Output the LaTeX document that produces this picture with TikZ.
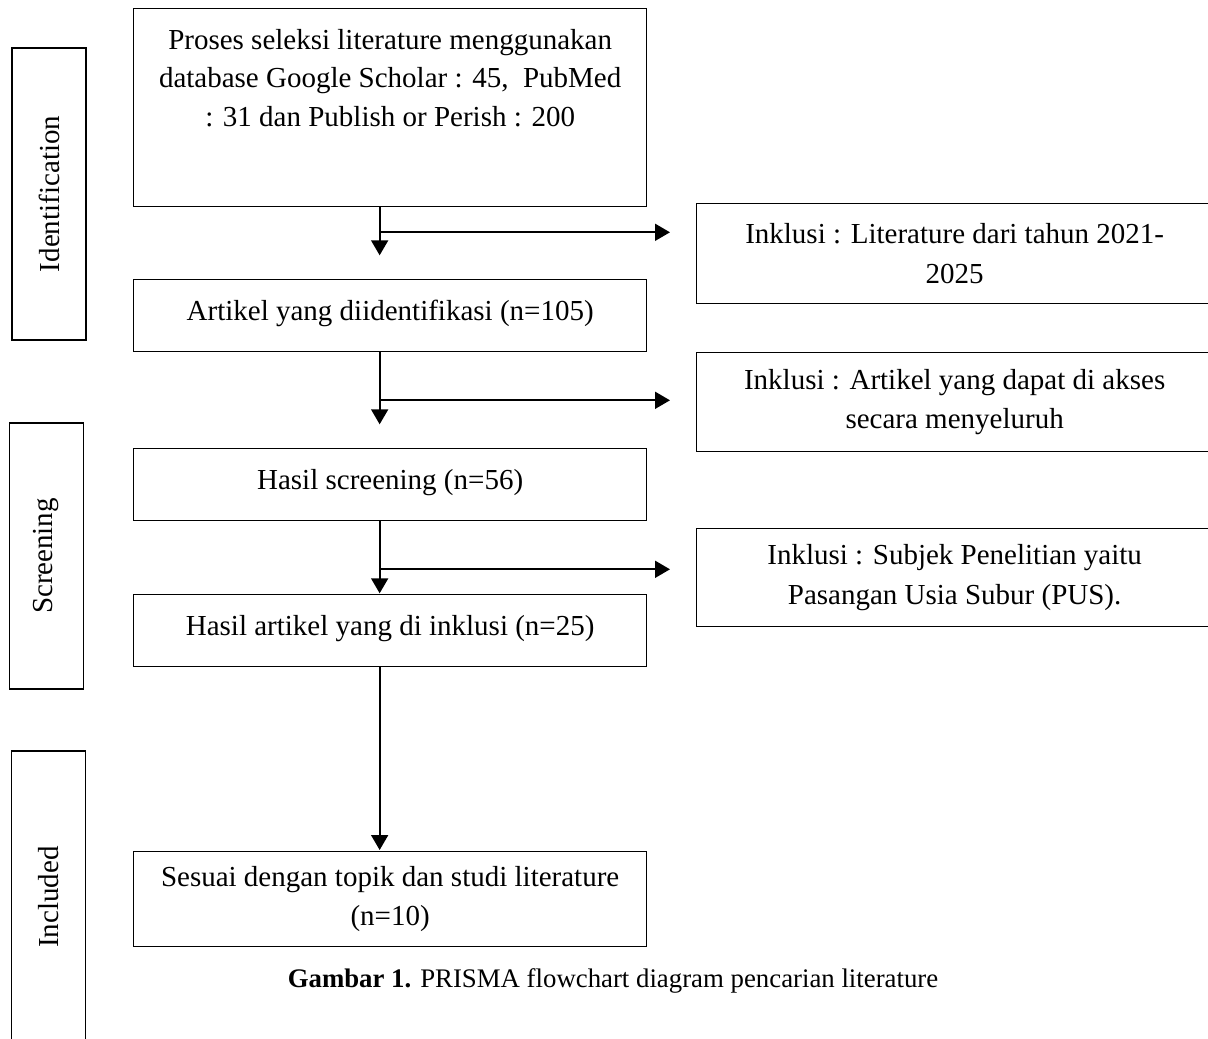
\documentclass[tikz,border=0pt]{standalone}
\usepackage{fontspec}
\setmainfont{Liberation Serif}
\usetikzlibrary{arrows.meta,calc}
\begin{document}
\begin{tikzpicture}[x=1pt,y=-1pt,
  font=\fontsize{29}{38.5}\selectfont,
  box/.style={draw=black, line width=1.3pt, inner sep=0pt, align=center},
  mainbox/.style={box, minimum width=513pt, anchor=north west},
  onebox/.style={mainbox, text height=41pt, text depth=31pt},
  sidebox/.style={box, minimum width=516pt, anchor=north west, font=\fontsize{29}{39.5}\selectfont},
  stagebox/.style={box, rotate=90, minimum height=74pt},
  conn/.style={line width=1.8pt, -{Triangle[width=17pt,length=15pt]}}
]
\useasboundingbox (0,0) rectangle (1208,1039);
% stage labels
\node[stagebox, minimum width=292pt] (sid) at (49,194) {Identification};
\node[stagebox, minimum width=266pt] (ssc) at (46.5,556) {Screening};
\node[stagebox, minimum width=292pt] (sin) at (48.5,897) {Included};
% main column
\node[mainbox, minimum height=198pt] (b1) at (133,8) {};
\node[align=center, anchor=north, inner sep=0pt] (b1t) at ($(b1.north)+(0,21)$)
  {Proses seleksi literature menggunakan\\ database Google Scholar : 45,\ \ PubMed\\ : 31 dan Publish or Perish : 200};
\node[onebox] (b2) at (133,279) {Artikel yang diidentifikasi (n=105)};
\node[onebox] (b3) at (133,448) {Hasil screening (n=56)};
\node[onebox] (b4) at (133,594) {Hasil artikel yang di inklusi (n=25)};
\node[mainbox, minimum height=95pt] (b5) at (133,851) {Sesuai dengan topik dan studi literature\\ (n=10)};
% side boxes
\node[sidebox, minimum height=100pt] (r1) at (696,203) {Inklusi : Literature dari tahun 2021-\\ 2025};
\node[sidebox, minimum height=99pt] (r2) at (696,352) {Inklusi : Artikel yang dapat di akses\\ secara menyeluruh};
\node[sidebox, minimum height=98pt] (r3) at (696,528) {Inklusi : Subjek Penelitian yaitu\\ Pasangan Usia Subur (PUS).};
% connectors
\coordinate (s1) at ($(b1.south)+(-10.5,0)$);
\coordinate (v1) at ($(b1.south)+(-10.5,48)$);
\coordinate (j1) at ($(b1.south)+(-10.5,25)$);
\coordinate (e1) at ($(j1 -| r1.west)+(-26,0)$);
\draw[conn] (s1) -- (v1);
\draw[conn] (j1) -- (e1);

\coordinate (s2) at ($(b2.south)+(-10.5,0)$);
\coordinate (v2) at ($(b2.south)+(-10.5,72)$);
\coordinate (j2) at ($(b2.south)+(-10.5,48)$);
\coordinate (e2) at ($(j2 -| r2.west)+(-26,0)$);
\draw[conn] (s2) -- (v2);
\draw[conn] (j2) -- (e2);

\coordinate (s3) at ($(b3.south)+(-10.5,0)$);
\coordinate (v3) at ($(b3.south)+(-10.5,72)$);
\coordinate (j3) at ($(b3.south)+(-10.5,48)$);
\coordinate (e3) at ($(j3 -| r3.west)+(-26,0)$);
\draw[conn] (s3) -- (v3);
\draw[conn] (j3) -- (e3);

\coordinate (s4) at ($(b4.south)+(-10.5,0)$);
\coordinate (v4) at ($(b5.north)+(-10.5,-1)$);
\draw[conn] (s4) -- (v4);
% caption
\node[font=\fontsize{26.8}{32}\selectfont, inner sep=0pt] (cap) at (613,981)
  {\textbf{Gambar 1.} PRISMA flowchart diagram pencarian literature};
\end{tikzpicture}
\end{document}
